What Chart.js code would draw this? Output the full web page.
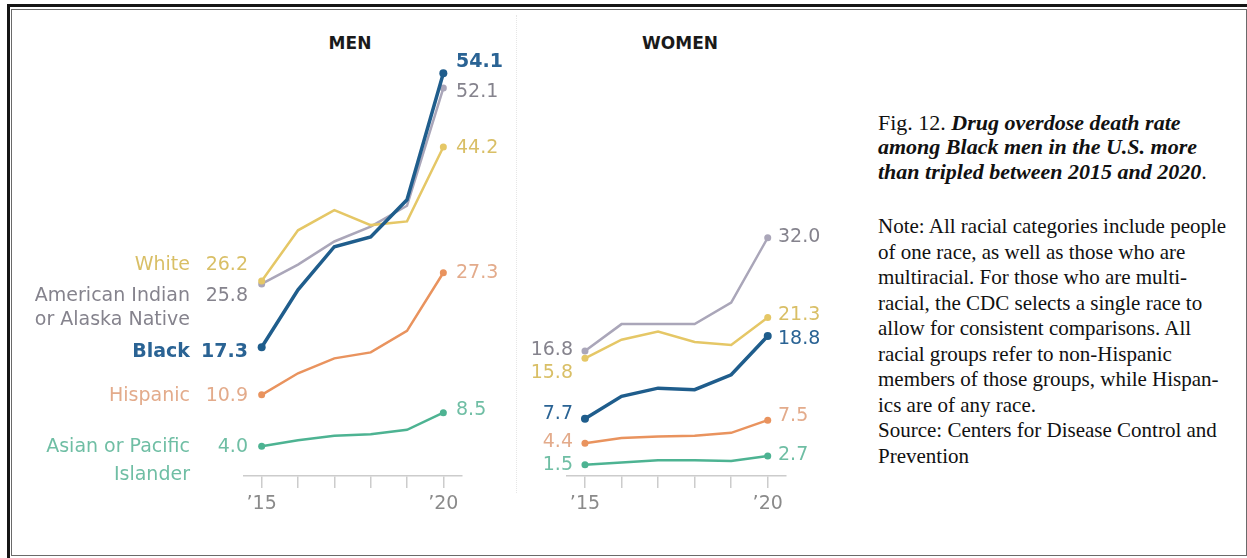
<!DOCTYPE html>
<html>
<head>
<meta charset="utf-8">
<script src="https://cdn.jsdelivr.net/npm/chart.js@4.4.0/dist/chart.umd.min.js"></script>
<style>
  html, body { margin:0; padding:0; background:#fff; }
  body { width:1247px; height:558px; position:relative; overflow:hidden; }
  canvas { position:absolute; left:0; top:0; }
  .frameOuter { position:absolute; left:7px; top:4px; width:1240px; height:554px; border-top:3px solid #151515; border-left:3px solid #151515; box-sizing:border-box; }
  .frameInner { position:absolute; left:11px; top:9px; width:1236px; height:547px; border:1.5px solid #6a6a6a; box-sizing:border-box; }
  .sep { position:absolute; left:516px; top:15px; height:478px; border-left:1px dotted #e6e6e6; }
  .ptitle { position:absolute; font-family:"DejaVu Sans"; font-weight:bold; font-size:17px; color:#1a1a1a; transform:translate(-50%,-50%); }
  .note { position:absolute; left:878px; font-family:"Liberation Serif"; color:#111; white-space:nowrap; }
</style>
</head>
<body>
<div class="frameOuter"></div>
<div class="frameInner"></div>
<div class="sep"></div>
<div class="ptitle" style="left:350px; top:43px;">MEN</div>
<div class="ptitle" style="left:680px; top:43px;">WOMEN</div>
<div class="note" style="top:110.5px; line-height:24.5px; font-size:22px;">Fig. 12. <b><i>Drug overdose death rate</i></b><br><b><i>among Black men in the U.S. more</i></b><br><b><i>than tripled between 2015 and 2020</i></b>.</div>
<div class="note" style="top:214px; line-height:25.5px; font-size:21px;">Note: All racial categories include people<br>of one race, as well as those who are<br>multiracial. For those who are multi-<br>racial, the CDC selects a single race to<br>allow for consistent comparisons. All<br>racial groups refer to non-Hispanic<br>members of those groups, while Hispan-<br>ics are of any race.<br>Source: Centers for Disease Control and<br>Prevention</div>
<canvas id="men" width="1247" height="558"></canvas>
<canvas id="women" width="1247" height="558"></canvas>
<script>
// ---------- DATA ----------
const yearLabels = ['\u201915', '\u201916', '\u201917', '\u201918', '\u201919', '\u201920'];
const shownTicks = ['\u201915', '\u201920'];
const groupNames = ['Black', 'White', 'American Indian\nor Alaska Native', 'Hispanic', 'Asian or Pacific\nIslander'];

const menBlack    = [17.3, 25.0, 30.8, 32.1, 37.1, 54.1];
const menWhite    = [26.2, 33.0, 35.7, 33.7, 34.2, 44.2];
const menAIAN     = [25.8, 28.4, 31.5, 33.5, 36.3, 52.1];
const menHispanic = [10.9, 13.8, 15.8, 16.6, 19.5, 27.3];
const menAsian    = [4.0, 4.8, 5.4, 5.6, 6.2, 8.5];

const womenBlack    = [7.7, 10.7, 11.8, 11.6, 13.6, 18.8];
const womenWhite    = [15.8, 18.3, 19.4, 18.0, 17.6, 21.3];
const womenAIAN     = [16.8, 20.4, 20.4, 20.4, 23.3, 32.0];
const womenHispanic = [4.4, 5.1, 5.3, 5.4, 5.8, 7.5];
const womenAsian    = [1.5, 1.8, 2.1, 2.1, 2.0, 2.7];

// ---------- STYLES ----------
const lineColors  = ['#1f5d8c', '#e5c766', '#aaa6b9', '#e9935e', '#4db392'];
const labelColors = ['#2a6394', '#d9bf66', '#85838d', '#e3ab8b', '#6fbea4'];
const lineWidths  = [3.5, 2.5, 2.5, 2.5, 2.5];
const boldLabel   = [true, false, false, false, false];

function endPoints(r) { return [r, 0, 0, 0, 0, r]; }

function makeDatasets(series) {
  return series.map((d, i) => ({
    label: groupNames[i],
    data: d,
    borderColor: lineColors[i],
    backgroundColor: lineColors[i],
    pointBackgroundColor: lineColors[i],
    pointBorderColor: lineColors[i],
    borderWidth: lineWidths[i],
    pointRadius: endPoints(i === 0 ? 4 : 3.5),
    pointBorderWidth: 0,
    tension: 0,
    fill: false,
    clip: false
  }));
}

const labelPlugin = {
  id: 'endLabels',
  afterDatasetsDraw(chart, args, opts) {
    const ctx = chart.ctx;
    const xs = chart.scales.x, ys = chart.scales.y;
    ctx.save();
    ctx.textBaseline = 'middle';
    chart.data.datasets.forEach((ds, i) => {
      const d = ds.data, last = d.length - 1;
      const x0 = xs.getPixelForValue(0), x1 = xs.getPixelForValue(last);
      const y0 = ys.getPixelForValue(d[0]), y1 = ys.getPixelForValue(d[last]);
      const boldStart = opts.boldStart && boldLabel[i];
      const boldEnd = boldLabel[i] && opts.boldEnd;
      ctx.fillStyle = labelColors[i];
      ctx.font = (boldStart ? 'bold ' : '') + '19px "DejaVu Sans"';
      ctx.textAlign = 'right';
      ctx.fillText(d[0].toFixed(1), x0 - opts.startGap, y0 + opts.dyStart[i]);
      if (opts.showNames) {
        const lines = groupNames[i].split('\n');
        lines.forEach((ln, k) => {
          ctx.fillText(ln, x0 - opts.nameGap, y0 + opts.dyStart[i] + k * opts.nameLineGap[i]);
        });
      }
      ctx.font = (boldEnd ? 'bold ' : '') + '19px "DejaVu Sans"';
      ctx.textAlign = 'left';
      ctx.fillText(d[last].toFixed(1), x1 + opts.endGap, y1 + opts.dyEnd[i]);
    });
    ctx.restore();
  }
};

function makeChart(id, series, padLeft, padRight, labelOpts) {
  return new Chart(document.getElementById(id), {
    type: 'line',
    data: { labels: yearLabels, datasets: makeDatasets(series) },
    options: {
      responsive: false,
      animation: false,
      devicePixelRatio: 1,
      layout: { padding: { left: padLeft, right: padRight, top: 29.3, bottom: 0 } },
      plugins: { legend: { display: false }, tooltip: { enabled: false }, endLabels: labelOpts },
      scales: {
        x: {
          type: 'category',
          offset: true,
          grid: { display: true, drawOnChartArea: false, drawTicks: true, tickLength: 12, color: '#cccccc', lineWidth: 1.5 },
          border: { display: true, color: '#cccccc', width: 1.5 },
          ticks: {
            autoSkip: false, maxRotation: 0, minRotation: 0, padding: 5,
            color: '#8a8a8a', font: { family: 'DejaVu Sans', size: 19 },
            callback: (v, i) => shownTicks.includes(yearLabels[i]) ? yearLabels[i] : ''
          },
          afterFit: (s) => { s.height = 558 - 476; }
        },
        y: { display: false, min: 0, max: 60 }
      }
    },
    plugins: [labelPlugin]
  });
}

makeChart('men', [menBlack, menWhite, menAIAN, menHispanic, menAsian], 243.5, 1247 - 461.5, {
  showNames: true, boldStart: true, boldEnd: true,
  startGap: 13.7, nameGap: 71.7, endGap: 12.7,
  dyStart: [4.5, -16, 12, 1, 1],
  nameLineGap: [0, 0, 24, 0, 28],
  dyEnd: [-11, 1, 4, 0, -3]
});

makeChart('women', [womenBlack, womenWhite, womenAIAN, womenHispanic, womenAsian], 566.7, 1247 - 786, {
  showNames: false, boldStart: false, boldEnd: false,
  startGap: 12, nameGap: 0, endGap: 10.3,
  dyStart: [-5, 15, -1, -1.5, 0],
  nameLineGap: [0, 0, 0, 0, 0],
  dyEnd: [3, -2, -1, -4, -1]
});
</script>
</body>
</html>
